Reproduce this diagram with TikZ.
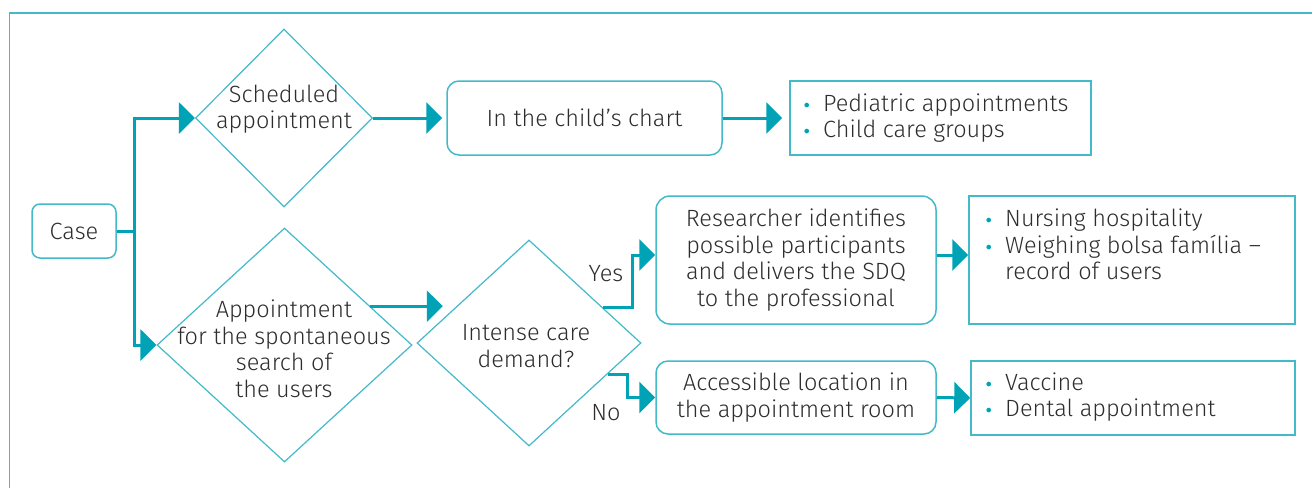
\documentclass[tikz,border=0pt]{standalone}
\usepackage{fontspec}
\setmainfont{Fira Sans}[UprightFont=* Light]
\newfontfamily\bulfont{DejaVu Sans}
\usetikzlibrary{arrows.meta,shapes.geometric,calc}
\definecolor{arrc}{RGB}{0,163,181}
\definecolor{boxc}{RGB}{66,186,201}
\definecolor{txtc}{RGB}{45,45,45}
\newcommand{\blt}{\makebox[21pt][l]{\textcolor{arrc}{\bulfont\fontsize{16}{16}\selectfont •}}}
\begin{document}
\begin{tikzpicture}[x=1pt,y=-1pt,
  every node/.style={text=txtc, font=\fontsize{23.5}{26.5}\selectfont, inner sep=0},
  rbox/.style={draw=boxc, line width=1.5pt, rounded corners=12pt, align=center},
  sbox/.style={draw=boxc, line width=1.5pt},
  diam/.style={draw=boxc, line width=1.2pt, diamond},
  conn/.style={draw=arrc, line width=3pt},
  arr/.style={draw=arrc, line width=3pt, -{Triangle[length=16pt,width=31pt]}}]
\useasboundingbox (0,0) rectangle (1312,488);
\draw[boxc, line width=1.8pt] (9.5,488) -- (9.5,13) -- (1312,13);
% nodes
\node[rbox, minimum width=84, minimum height=54, rounded corners=8pt] (case) at (74,231) {Case};
\node[diam, minimum width=177, minimum height=178] (sched) at (284,118) {};
\node[align=center] (schedt) at (284,109) {Scheduled\\appointment};
\node[rbox, minimum width=275, minimum height=74] (chart) at (584.5,118) {In the child’s chart};
\node[sbox, minimum width=301, minimum height=74] (ped) at (940.5,118) {};
\node[anchor=west, align=left] (pedt) at (802,118) {\blt Pediatric appointments\\\blt Child care groups};
\node[diam, minimum width=255, minimum height=234] (spont) at (284.5,345) {};
\node[align=center] (spontt) at (284,349) {Appointment\\for the spontaneous\\search of\\the users};
\node[diam, minimum width=224, minimum height=206] (int) at (529,343) {};
\node[align=center] (intt) at (526,346) {Intense care\\demand?};
\node[rbox, minimum width=280, minimum height=128, rounded corners=14pt] (res) at (796,260) {Researcher identifies\\possible participants\\and delivers the SDQ\\ to the professional};
\node[rbox, minimum width=280, minimum height=73] (acc) at (796,397.5) {Accessible location in\\the appointment room};
\node[sbox, minimum width=326, minimum height=128] (nurs) at (1132,260) {};
\node[anchor=north west, align=left] (nurst) at (984,209) {\blt Nursing hospitality\\\blt Weighing bolsa família –\\\hspace*{21pt}record of users};
\node[sbox, minimum width=324, minimum height=74] (vacc) at (1133,398) {};
\node[anchor=west, align=left] (vacct) at (984,397) {\blt Vaccine\\\blt Dental appointment};
\node (yes) at (606,274) {Yes};
\node (no) at (606,413) {No};
% connectors
\coordinate (j) at (134,231);
\draw[conn] (case.east) -- (j);
\draw[arr] (j) |- (sched.west);
\draw[arr] (j) |- (spont.west);
\draw[arr, shorten >=4pt] (sched.east) -- (chart.west);
\draw[arr, shorten >=7pt] (chart.east) -- (ped.west);
\coordinate (s1) at ($(spont.east)!0.33!(spont.north)$);
\coordinate (e1) at ($(int.west)!0.35!(int.north)$);
\draw[arr, shorten >=13pt] (s1) -- (s1 -| e1);
\coordinate (ys) at ($(int.east)!0.34!(int.north)$);
\coordinate (ns) at ($(int.east)!0.3!(int.south)$);
\draw[arr] (ys) -- ++(29,0) |- ([yshift=5pt]res.west);
\draw[arr] (ns) -- ++(20,0) |- (acc.west);
\draw[arr] ([yshift=5pt]res.east) -- ([yshift=5pt]nurs.west);
\draw[arr] (acc.east) -- (vacc.west);
\end{tikzpicture}
\end{document}
